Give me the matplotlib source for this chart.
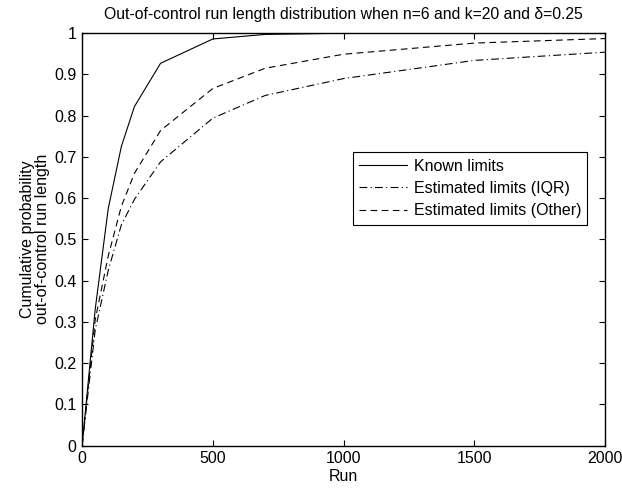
import matplotlib
matplotlib.use("Agg")
import matplotlib.pyplot as plt

plt.rcParams['font.family'] = ['Liberation Sans', 'DejaVu Sans']

# run length values
run = [0, 50, 100, 150, 200, 300, 500, 700, 1000, 1500, 2000]
known = [0, 0.33, 0.575, 0.725, 0.822, 0.927, 0.986, 0.997, 1.0, 1.0, 1.0]
iqr = [0, 0.28, 0.425, 0.535, 0.597, 0.688, 0.794, 0.849, 0.89, 0.934, 0.954]
other = [0, 0.305, 0.46, 0.58, 0.66, 0.764, 0.866, 0.915, 0.949, 0.976, 0.987]

fig = plt.figure(figsize=(6.22, 4.88), dpi=100)
ax = fig.add_axes([0.132, 0.087, 0.841, 0.845])

ax.plot(run, known, 'k-', lw=0.8, label='Known limits')
ax.plot(run, iqr, 'k', lw=0.8, dashes=(7, 3, 1, 3), label='Estimated limits (IQR)')
ax.plot(run, other, 'k', lw=0.8, dashes=(6, 4), label='Estimated limits (Other)')

ax.set_xlim(0, 2000)
ax.set_ylim(0, 1)
ax.set_xticks([0, 500, 1000, 1500, 2000])
ax.set_yticks([0, 0.1, 0.2, 0.3, 0.4, 0.5, 0.6, 0.7, 0.8, 0.9, 1])
ax.set_yticklabels(['0', '0.1', '0.2', '0.3', '0.4', '0.5', '0.6', '0.7', '0.8', '0.9', '1'])
ax.tick_params(direction='in', top=True, right=True, labelsize=11.5, length=4, width=0.8, pad=4)
for s in ax.spines.values():
    s.set_linewidth(1.0)

ax.set_xlabel('Run', fontsize=11.5, labelpad=2)
ax.set_ylabel('Cumulative probability\nout-of-control run length', fontsize=11.5, labelpad=3,
              linespacing=1.0)
ax.set_title('Out-of-control run length distribution when n=6 and k=20 and δ=0.25',
             fontsize=11.3, pad=10)

leg = ax.legend(loc='upper right', bbox_to_anchor=(0.966, 0.711), borderaxespad=0,
                fontsize=11.5, fancybox=False, edgecolor='k', framealpha=1,
                handlelength=3.0, handletextpad=0.4, labelspacing=0.45, borderpad=0.4)
leg.get_frame().set_linewidth(0.8)

fig.savefig('out.png', dpi=100)
